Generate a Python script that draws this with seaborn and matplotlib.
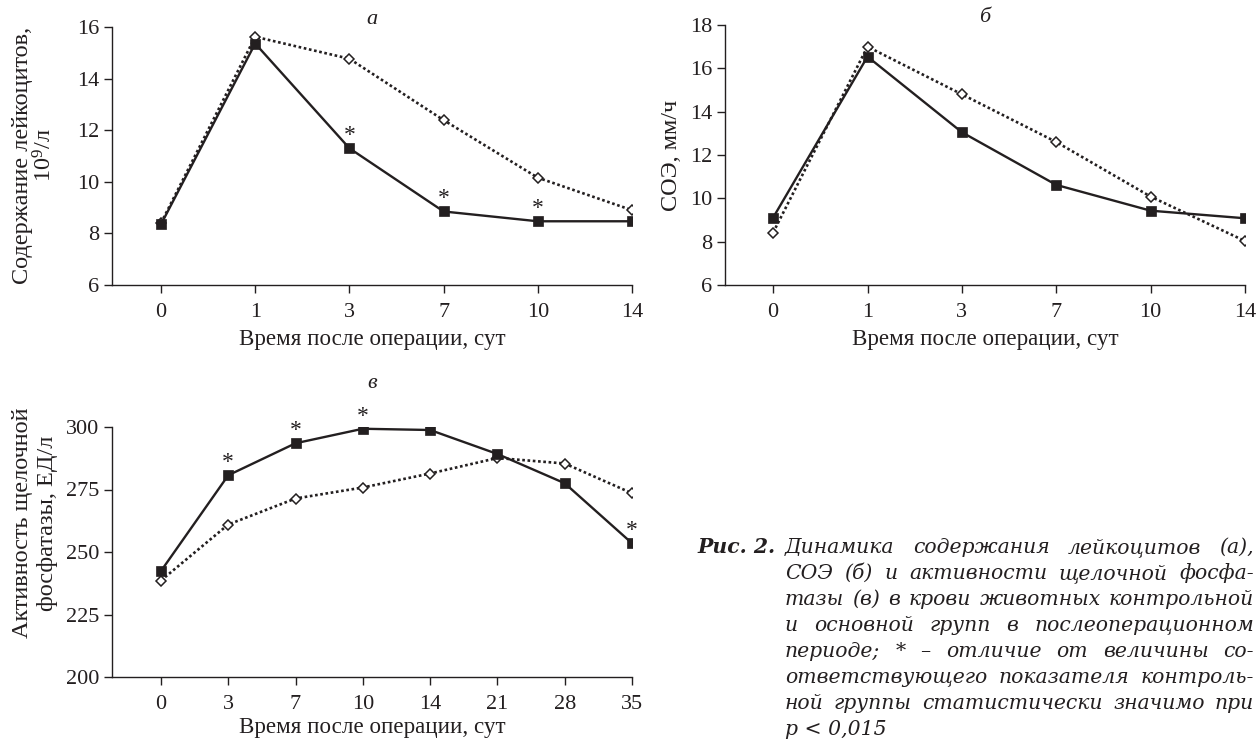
import matplotlib
matplotlib.use("Agg")
import matplotlib.pyplot as plt
import seaborn as sns
import pandas as pd
import numpy as np

# ---------------- data ----------------
days_ab = ["0", "1", "3", "7", "10", "14"]
leuko_main = [8.35, 15.36, 11.3, 8.85, 8.47, 8.47]
leuko_ctrl = [8.4, 15.62, 14.77, 12.39, 10.16, 8.9]
leuko_sig = [False, False, True, True, True, False]

esr_main = [9.11, 16.54, 13.05, 10.62, 9.43, 9.08]
esr_ctrl = [8.42, 17.0, 14.8, 12.6, 10.08, 8.03]

days_c = ["0", "3", "7", "10", "14", "21", "28", "35"]
alp_main = [242.4, 280.7, 293.5, 299.3, 298.8, 289.2, 277.5, 253.5]
alp_ctrl = [238.6, 261.0, 271.4, 275.8, 281.4, 287.6, 285.4, 273.5]
alp_sig = [False, True, True, True, False, False, False, True]

ylab_a = "Содержание лейкоцитов,\n$\\mathregular{10^9}$/л"
ylab_b = "СОЭ, мм/ч"
ylab_c = "Активность щелочной\nфосфатазы, ЕД/л"
xlab = "Время после операции, сут"

caption_head = "Рис. 2."
caption_lines = [
    "Динамика содержания лейкоцитов (а),",
    "СОЭ (б) и активности щелочной фосфа-",
    "тазы (в) в крови животных контрольной",
    "и основной групп в послеоперационном",
    "периоде; * – отличие от величины со-",
    "ответствующего показателя контроль-",
    "ной группы статистически значимо при",
    "p < 0,015",
]

# ---------------- style ----------------
sns.set_theme(style="ticks")
INK = "#231f20"
plt.rcParams["font.family"] = ["Liberation Serif", "DejaVu Serif"]
plt.rcParams["mathtext.fontset"] = "custom"
plt.rcParams["mathtext.rm"] = "Liberation Serif"
plt.rcParams.update({
    "axes.edgecolor": INK, "axes.linewidth": 1.0,
    "xtick.color": INK, "ytick.color": INK,
    "xtick.labelcolor": INK, "ytick.labelcolor": INK,
    "text.color": INK, "axes.labelcolor": INK,
    "xtick.major.size": 6, "ytick.major.size": 6,
    "xtick.major.width": 1.0, "ytick.major.width": 1.0,
    "xtick.major.pad": 7, "ytick.major.pad": 3,
    "xtick.labelsize": 16, "ytick.labelsize": 16,
})

W, H = 1259, 740
fig = plt.figure(figsize=(W / 100, H / 100), dpi=100)


def px_axes(l, r, t, b):
    return fig.add_axes([l / W, (H - b) / H, (r - l) / W, (b - t) / H])


ax_a = px_axes(112, 632, 27, 285)
ax_b = px_axes(725, 1245, 25, 285)
ax_c = px_axes(112, 632, 427, 677)


def draw_panel(ax, cats, main, ctrl, sig, ylim, yticks, xlim_left, labelpad=5):
    pos = np.arange(len(cats))
    dc = pd.DataFrame({"pos": pos, "val": ctrl})
    dm = pd.DataFrame({"pos": pos, "val": main})
    sns.lineplot(data=dc, x="pos", y="val", ax=ax, color=INK,
                 linestyle=(0, (1.0, 1.0)), linewidth=1.9,
                 marker="D", markersize=5.6, markerfacecolor="white",
                 markeredgecolor=INK, markeredgewidth=1.1, zorder=2)
    sns.lineplot(data=dm, x="pos", y="val", ax=ax, color=INK,
                 linestyle="-", linewidth=1.7,
                 marker="s", markersize=7.8, markerfacecolor=INK,
                 markeredgecolor=INK, markeredgewidth=0.5, zorder=3)
    if sig is not None:
        for p, v, s in zip(pos, main, sig):
            if s:
                ax.annotate("*", (p, v), xytext=(0, 7), textcoords="offset pixels",
                            ha="center", va="baseline", fontsize=17, color=INK)
    ax.set_xticks(pos)
    ax.set_xticklabels(cats)
    ax.set_xlim(xlim_left, len(cats) - 1)
    ax.set_ylim(*ylim)
    ax.set_yticks(yticks)
    ax.set_xlabel(xlab, fontsize=16.6, labelpad=labelpad)
    ax.set_ylabel("")
    sns.despine(ax=ax)
    ax.spines["left"].set_bounds(ylim[0], ylim[1])


draw_panel(ax_a, days_ab, leuko_main, leuko_ctrl, leuko_sig, (6, 16), np.arange(6, 17, 2), -0.52)
draw_panel(ax_b, days_ab, esr_main, esr_ctrl, None, (6, 18), np.arange(6, 19, 2), -0.51)
draw_panel(ax_c, days_c, alp_main, alp_ctrl, alp_sig, (200, 300), np.arange(200, 301, 25), -0.728,
           labelpad=2)


def ftext(x, y, s, **kw):
    return fig.text(x / W, (H - y) / H, s, **kw)


# y labels
ftext(34, 155, ylab_a, rotation=90, ha="center", va="center", fontsize=17.5,
      multialignment="center", linespacing=1.0)
ftext(672, 155, ylab_b, rotation=90, ha="center", va="center", fontsize=17.5)
ftext(35, 523, ylab_c, rotation=90, ha="center", va="center", fontsize=17.5,
      multialignment="center", linespacing=1.2)

# panel letters
ftext(372, 20, "а", ha="center", va="center", fontsize=16, style="italic")
ftext(985, 18, "б", ha="center", va="center", fontsize=16, style="italic")
ftext(372, 383, "в", ha="center", va="center", fontsize=16, style="italic")

# caption (justified)
renderer = fig.canvas.get_renderer()
CAP_FAMILY = ["DejaVu Serif"]
x_left, x_right = 785, 1254
y0, dy = 553, 26

# choose the caption size so the longest line fits with normal spacing
probe_fs = 16
nat = []
for line in caption_lines[:-1]:
    t = ftext(0, 0, line, fontsize=probe_fs, style="italic", family=CAP_FAMILY)
    nat.append(t.get_window_extent(renderer=renderer).width)
    t.remove()
CAP_FS = min(17.0, probe_fs * (x_right - x_left) * 0.985 / max(nat))

ftext(x_left - 9, y0, caption_head, ha="right", va="baseline", fontsize=CAP_FS,
      style="italic", fontweight="bold", family=CAP_FAMILY)
for i, line in enumerate(caption_lines):
    yb = y0 + i * dy
    words = line.split(" ")
    if i == len(caption_lines) - 1:
        ftext(x_left, yb, line, ha="left", va="baseline", fontsize=CAP_FS,
              style="italic", family=CAP_FAMILY)
        continue
    objs = [ftext(x_left, yb, w, ha="left", va="baseline", fontsize=CAP_FS,
                  style="italic", family=CAP_FAMILY) for w in words]
    widths = [o.get_window_extent(renderer=renderer).width for o in objs]
    gap = (x_right - x_left - sum(widths)) / (len(words) - 1)
    x = x_left
    for o, w in zip(objs, widths):
        o.set_x(x / W)
        x += w + gap

fig.savefig("out.png", dpi=100)
